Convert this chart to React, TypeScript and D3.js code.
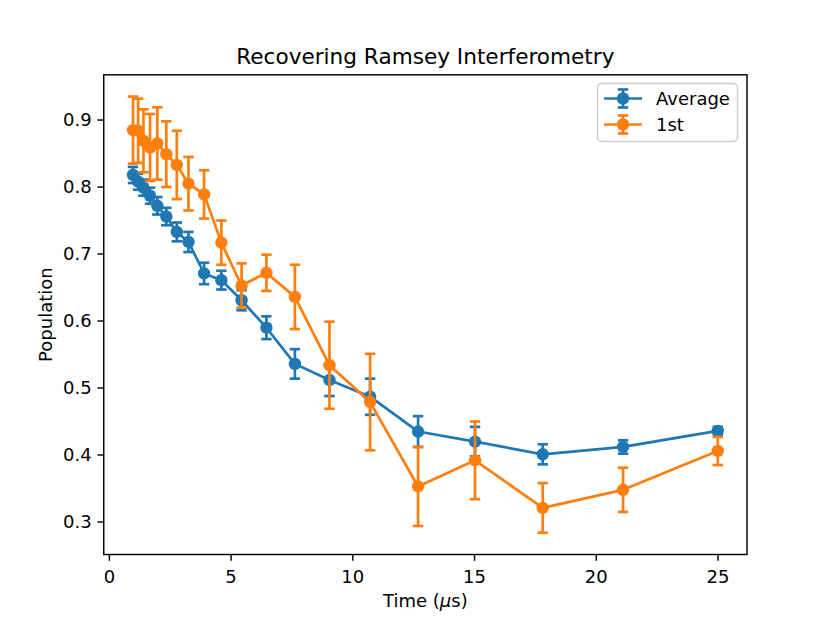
import { useEffect, useRef } from 'react';
import * as d3 from 'd3';

const times = [0.97, 1.18, 1.4, 1.67, 1.97, 2.34, 2.77, 3.25, 3.89, 4.6, 5.43, 6.45, 7.62, 9.04, 10.71, 12.68, 15.02, 17.8, 21.1, 24.99];
const average = [0.818, 0.808, 0.799, 0.787, 0.772, 0.756, 0.733, 0.718, 0.671, 0.661, 0.631, 0.59, 0.536, 0.512, 0.487, 0.435, 0.42, 0.401, 0.412, 0.436];
const averageErr = [0.012, 0.012, 0.012, 0.012, 0.013, 0.013, 0.014, 0.015, 0.016, 0.014, 0.015, 0.017, 0.022, 0.024, 0.027, 0.023, 0.022, 0.015, 0.01, 0.006];
const first = [0.885, 0.884, 0.869, 0.859, 0.865, 0.849, 0.833, 0.805, 0.789, 0.717, 0.653, 0.672, 0.636, 0.534, 0.479, 0.353, 0.392, 0.321, 0.348, 0.406];
const firstErr = [0.05, 0.048, 0.047, 0.05, 0.054, 0.049, 0.051, 0.04, 0.036, 0.033, 0.033, 0.027, 0.048, 0.065, 0.072, 0.059, 0.058, 0.037, 0.033, 0.021];

const xTicks = [0, 5, 10, 15, 20, 25];
const yTicks = [0.3, 0.4, 0.5, 0.6, 0.7, 0.8, 0.9];

const series = [
  { name: 'Average', values: average, errors: averageErr, color: '#1f77b4' },
  { name: '1st', values: first, errors: firstErr, color: '#ff7f0e' },
];

export default function App() {
  const svgRef = useRef<SVGSVGElement>(null);

  useEffect(() => {
    if (!svgRef.current) return;
    const svg = d3.select(svgRef.current);
    svg.selectAll('*').remove();

    const W = 830;
    const H = 623;
    const left = 103.75, right = 747, top = 74.8, bottom = 554.5;
    const font = 'DejaVu Sans, sans-serif';

    // matplotlib-style 5% padding
    const xMin = d3.min(times)!, xMax = d3.max(times)!;
    const xPad = (xMax - xMin) * 0.05;
    const lows = series.flatMap(s => s.values.map((v, i) => v - s.errors[i]));
    const highs = series.flatMap(s => s.values.map((v, i) => v + s.errors[i]));
    const yMin = d3.min(lows)!, yMax = d3.max(highs)!;
    const yPad = (yMax - yMin) * 0.05;

    const x = d3.scaleLinear().domain([xMin - xPad, xMax + xPad]).range([left, right]);
    const y = d3.scaleLinear().domain([yMin - yPad, yMax + yPad]).range([bottom, top]);

    svg.append('rect').attr('width', W).attr('height', H).attr('fill', 'white');

    const plot = svg.append('g');
    const lw = 2.7;
    const cap = 5.2;
    const r = 6.2;

    series.forEach(s => {
      const g = plot.append('g');
      // error bars
      s.values.forEach((v, i) => {
        const cx = x(times[i]);
        const y0 = y(v - s.errors[i]);
        const y1 = y(v + s.errors[i]);
        g.append('line').attr('x1', cx).attr('x2', cx).attr('y1', y0).attr('y2', y1)
          .attr('stroke', s.color).attr('stroke-width', lw);
        [y0, y1].forEach(cy => {
          g.append('line').attr('x1', cx - cap).attr('x2', cx + cap).attr('y1', cy).attr('y2', cy)
            .attr('stroke', s.color).attr('stroke-width', lw);
        });
      });
      const line = d3.line<number>().x((_, i) => x(times[i])).y(v => y(v));
      g.append('path').attr('d', line(s.values)).attr('fill', 'none')
        .attr('stroke', s.color).attr('stroke-width', lw).attr('stroke-linejoin', 'round');
      g.selectAll('circle.m').data(s.values).enter().append('circle')
        .attr('cx', (_, i) => x(times[i])).attr('cy', v => y(v)).attr('r', r)
        .attr('fill', s.color);
    });

    // frame
    svg.append('rect').attr('x', left).attr('y', top).attr('width', right - left).attr('height', bottom - top)
      .attr('fill', 'none').attr('stroke', 'black').attr('stroke-width', 1.44);

    // x ticks
    const xAxis = svg.append('g');
    xTicks.forEach(t => {
      xAxis.append('line').attr('x1', x(t)).attr('x2', x(t)).attr('y1', bottom).attr('y2', bottom + 6.3)
        .attr('stroke', 'black').attr('stroke-width', 1.44);
      xAxis.append('text').attr('x', x(t)).attr('y', bottom + 28).attr('text-anchor', 'middle')
        .attr('font-family', font).attr('font-size', 18).text(String(t));
    });

    // y ticks
    const yAxis = svg.append('g');
    yTicks.forEach(t => {
      yAxis.append('line').attr('x1', left - 6.3).attr('x2', left).attr('y1', y(t)).attr('y2', y(t))
        .attr('stroke', 'black').attr('stroke-width', 1.44);
      yAxis.append('text').attr('x', left - 12).attr('y', y(t)).attr('dy', '0.35em').attr('text-anchor', 'end')
        .attr('font-family', font).attr('font-size', 18).text(t.toFixed(1));
    });

    // axis labels
    const xl = svg.append('text').attr('x', (left + right) / 2).attr('y', 607).attr('text-anchor', 'middle')
      .attr('font-family', font).attr('font-size', 18);
    xl.append('tspan').text('Time (');
    xl.append('tspan').attr('font-style', 'italic').text('μ');
    xl.append('tspan').text('s)');

    svg.append('text').attr('transform', `translate(52,${(top + bottom) / 2}) rotate(-90)`)
      .attr('text-anchor', 'middle').attr('font-family', font).attr('font-size', 18).text('Population');

    svg.append('text').attr('x', (left + right) / 2).attr('y', 64).attr('text-anchor', 'middle')
      .attr('font-family', font).attr('font-size', 21.6).text('Recovering Ramsey Interferometry');

    // legend
    const lg = svg.append('g');
    lg.append('rect').attr('x', 597.5).attr('y', 83.5).attr('width', 140).attr('height', 58).attr('rx', 4)
      .attr('fill', 'white').attr('fill-opacity', 0.8).attr('stroke', '#cccccc').attr('stroke-width', 1.44);
    series.forEach((s, k) => {
      const cy = 98.5 + k * 26;
      const hx0 = 604, hx1 = 642, hc = 623;
      lg.append('line').attr('x1', hc).attr('x2', hc).attr('y1', cy - 9).attr('y2', cy + 9)
        .attr('stroke', s.color).attr('stroke-width', lw);
      [cy - 9, cy + 9].forEach(yy => {
        lg.append('line').attr('x1', hc - cap).attr('x2', hc + cap).attr('y1', yy).attr('y2', yy)
          .attr('stroke', s.color).attr('stroke-width', lw);
      });
      lg.append('line').attr('x1', hx0).attr('x2', hx1).attr('y1', cy).attr('y2', cy)
        .attr('stroke', s.color).attr('stroke-width', lw);
      lg.append('circle').attr('cx', hc).attr('cy', cy).attr('r', r).attr('fill', s.color);
      lg.append('text').attr('x', 656).attr('y', cy).attr('dy', '0.35em')
        .attr('font-family', font).attr('font-size', 18).text(s.name);
    });
  }, []);

  return (
    <svg ref={svgRef} width={830} height={623}
      style={{ position: 'absolute', left: 0, top: 0, display: 'block' }} />
  );
}
